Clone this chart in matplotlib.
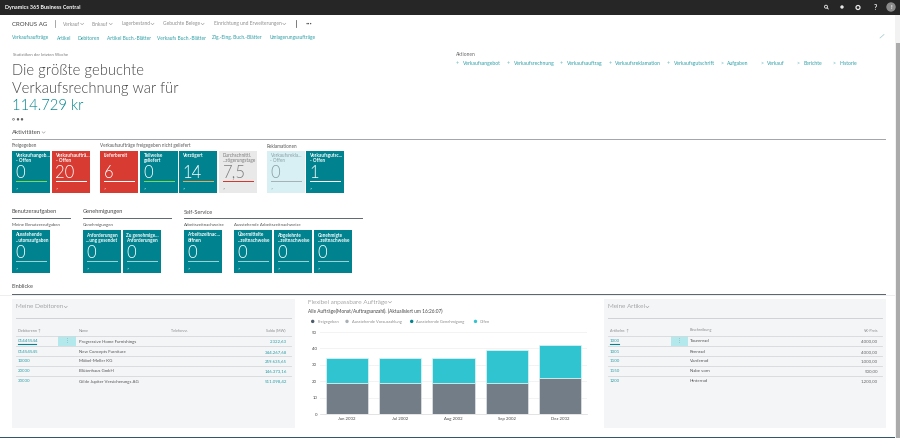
import matplotlib
matplotlib.use("Agg")
import matplotlib.pyplot as plt
from matplotlib.patches import Rectangle, Circle

plt.rcParams['font.family'] = ['Lato', 'DejaVu Sans']

TEAL = "#00838f"
LINK = "#2a9ea6"
GREY = "#505c66"

# navigation
nav_items = ["Verkauf", "Einkauf", "Lagerbestand", "Gebuchte Belege", "Einrichtung und Erweiterungen"]
link_items = ["Verkaufsaufträge", "Artikel", "Debitoren", "Artikel Buch.-Blätter", "Verkaufs Buch.-Blätter",
              "Zlg.-Eing. Buch.-Blätter", "Umlagerungsaufträge"]
action_items = ["Verkaufsangebot", "Verkaufsrechnung", "Verkaufsauftrag", "Verkaufsreklamation",
                "Verkaufsgutschrift", "Aufgaben", "Verkauf", "Berichte", "Historie"]
action_signs = ["+", "+", "+", "+", "+", ">", ">", ">", ">"]

# cues
tile_labels_top = ["Verkaufsangeb...\n- Offen", "Verkaufsaufträ...\n- Offen", "Lieferbereit", "Teilweise\ngeliefert",
                   "Verzögert", "Durchschnittl.\n...zögerungstage", "Verkaufsrekla...\n- Offen", "Verkaufsgutsc...\n- Offen"]
tile_values_top = ["0", "20", "6", "0", "14", "7,5", "0", "1"]
tile_labels_low = ["Ausstehende\n...utomaufgaben", "Anforderungen\n...ung gesendet", "Zu genehmige...\nAnforderungen",
                   "Arbeitszeitnac...\nöffnen", "Übermittelte\n...zeitnachweise", "Abgelehnte\n...zeitnachweise",
                   "Genehmigte\n...zeitnachweise"]
tile_values_low = ["0", "0", "0", "0", "0", "0", "0"]

# tables
debitor_nr = ["01445544", "01454545", "10000", "20000", "30000"]
debitor_name = ["Progressive Home Furnishings", "New Concepts Furniture", "Möbel-Meller KG", "Blütenhaus GmbH",
                "Gilde Jupiter Versicherungs AG"]
debitor_saldo = ["2.322,63", "344.267,68", "259.635,65", "146.373,16", "511.098,42"]
artikel_nr = ["1000", "1001", "1100", "1150", "1200"]
artikel_name = ["Tourenrad", "Rennrad", "Vorderrad", "Nabe vorn", "Hinterrad"]
artikel_preis = ["4.000,00", "4.000,00", "1.000,00", "500,00", "1.200,00"]

# bar chart
months = ["Jun 2002", "Jul 2002", "Aug 2002", "Sep 2002", "Dez 2002"]
freigegeben = [19, 19, 19, 19, 22]
offen = [15, 15, 15, 20, 20]
legend_names = ["Freigegeben", "Ausstehende Vorauszahlung", "Ausstehende Genehmigung", "Offen"]
legend_colors = ["#4c5a6a", "#a9b0b5", "#00838f", "#2fc4cf"]

fig = plt.figure(figsize=(9, 4.38), dpi=100, facecolor="white")
ax = fig.add_axes([0, 0, 1, 1])
ax.set_xlim(0, 900)
ax.set_ylim(438, 0)
ax.axis("off")


def txt(x, y, s, size=4, color=GREY, **kw):
    kw.setdefault("va", "center_baseline")
    return ax.text(x, y, s, fontsize=size, color=color, **kw)


def rect(x, y, w, h, color, z=1):
    ax.add_patch(Rectangle((x, y), w, h, facecolor=color, edgecolor="none", zorder=z))


# small down chevron behind a text
def chevron(t, color="#999999", s=1.5):
    box = t.get_window_extent(fig.canvas.get_renderer())
    x = box.x1 + s + 1
    y = 438 - (box.y0 + box.y1) / 2
    ax.plot([x - s, x, x + s], [y - s / 2, y + s / 2, y - s / 2], color=color, lw=0.4)


# top bar
rect(0, 0, 900, 14.5, "#262626")
txt(5, 6.5, "Dynamics 365 Business Central", 3.9, "white", fontweight="bold")
ax.add_patch(Circle((826, 6.7), 1.5, facecolor="none", edgecolor="#e8e8e8", lw=0.6))
ax.plot([827, 828.3], [7.8, 9], color="#e8e8e8", lw=0.6)
ax.add_patch(Circle((842, 7), 1.7, facecolor="#e8e8e8", edgecolor="none"))
ax.add_patch(Circle((858, 7.5), 2.0, facecolor="#262626", edgecolor="#e8e8e8", lw=0.9))
txt(875, 7.5, "?", 5, "#f0f0f0", ha="center", fontweight="bold")
ax.add_patch(Circle((891, 7), 4.7, facecolor="#8a8a8a", edgecolor="none"))
txt(891, 7, "!", 4, "white", ha="center", fontweight="bold")

# scrollbar
rect(895, 15, 5, 423, "#f2f2f2")
rect(896, 43, 3.5, 395, "#ababab")

# nav row
txt(12, 23.5, "CRONUS AG", 4.4, "#3f3f3f")
ax.plot([54.5, 54.5], [20, 27], color="#999999", lw=0.6)
for x, s in zip([62.5, 92, 121, 163, 214], nav_items):
    chevron(txt(x, 23.5, s, 3.5, "#8d8d8d"))
ax.plot([296, 296], [20, 27], color="#666666", lw=0.6)
txt(308.5, 23, "•••", 2.8, "#555555", ha="center")
for x, s in zip([12, 56.5, 78, 107, 157, 212.5, 270], link_items):
    txt(x, 37.5, s, 3.5, LINK)
ax.plot([880, 884], [38, 34.5], color="#9fc9cd", lw=0.5)

# headline
txt(13, 54.5, "Statistiken der letzten Woche", 3.1, "#777777")
txt(12.5, 69, "Die größte gebuchte", 10.6, "#444444", fontweight=300)
txt(12.5, 87, "Verkaufsrechnung war für", 10.6, "#444444", fontweight=300)
txt(12.5, 104, "114.729 kr", 10.6, TEAL, fontweight=300)
for x, fc in zip([13.5, 18, 22], ["white", "#555555", "#555555"]):
    ax.add_patch(Circle((x, 119.3), 0.9, facecolor=fc, edgecolor="#555555", lw=0.4))

# actions
txt(456, 54.5, "Aktionen", 3.5, "#666666")
for x, sign, s in zip([457.5, 508.5, 561.5, 610, 668.5, 722, 762, 798, 834], action_signs, action_items):
    txt(x, 63, sign, 3.9, "#63b9bf", ha="center")
    txt(x + 5.2, 63, s, 3.65, LINK)

# section heads
chevron(txt(12, 132, "Aktivitäten", 4.3, "#4a4a4a"))
rect(12, 139, 874, 1.2, "#a3a7ab")
for x, s in zip([12, 100, 267], ["Freigegeben", "Verkaufsaufträge freigegeben nicht geliefert", "Reklamationen"]):
    txt(x, 145.5, s, 3.3, "#555555")

top_x = [12, 52, 100, 140, 179, 219, 267, 306]
top_fill = [TEAL, "#d83b32", "#d83b32", TEAL, TEAL, "#e9e9ea", "#d8f0f3", TEAL]
top_text = ["white", "white", "white", "white", "white", "#7b7b7b", "#8b9ea2", "white"]
top_bar = ["#7ddb4e", "white", "white", "#7ddb4e", "#eda95a", "#d5372f", "#a6b3b6", "white"]


def tile(x, y, label, value, fill, tc, bc, w=38, h=42.5):
    rect(x, y, w, h, fill)
    txt(x + 3.5, y + 2.5, label, 3.3, tc, va="top", fontweight="bold" if tc == "white" else "normal",
        linespacing=1.05)
    txt(x + 3.5, y + 21, value, 12, tc, fontweight=300)
    rect(x + 3.5, y + 30.6, w - 7, 1.1, bc, 2)
    txt(x + 3.5, y + 37.5, ">", 3, tc)


for i in range(len(top_x)):
    tile(top_x[i], 150.5, tile_labels_top[i], tile_values_top[i], top_fill[i], top_text[i], top_bar[i])

# second row
for x, s, x2 in zip([12, 83, 184], ["Benutzeraufgaben", "Genehmigungen", "Self-Service"], [70, 171, 362]):
    txt(x, 211.5, s, 4.1, "#4a4a4a")
    ax.plot([x, x2], [218.4, 218.4], color="#5d6770", lw=0.7)
for x, s in zip([12, 83, 184, 234], ["Meine Benutzeraufgaben", "Genehmigungen", "Arbeitszeitnachweise",
                                     "Ausstehende Arbeitszeitnachweise"]):
    txt(x, 224.8, s, 3.2, "#555555")
low_x = [12, 83, 123, 184, 234, 274, 314]
for i in range(len(low_x)):
    tile(low_x[i], 230, tile_labels_low[i], tile_values_low[i], TEAL, "white", "#9fd0d4")

txt(12, 286.5, "Einblicke", 4.1, "#4a4a4a")
rect(12, 294, 874, 1, "#5d6770")
rect(0, 295, 895, 1, "#eeeeee", 0)


def table(x0, x1, title, heads, head_x, col1, col2, col3, right, link_col3, sel_x, sel_w):
    rect(x0, 299, x1 - x0, 128.5, "#f4f5f7", 0)
    chevron(txt(x0 + 4, 306.5, title, 4.6, "#666666", fontweight=300))
    ax.plot([x0 + 4, x1 - 4], [317.5, 317.5], color="#c9cccf", lw=0.6)
    for x, s in zip(head_x, heads):
        txt(x, 330, s, 2.7, "#8a8a8a")
    for i, y in enumerate([341, 351.5, 361, 371, 381]):
        ax.plot([x0 + 4, x1 - 4], [y - 5.3, y - 5.3], color="#d5d8db", lw=0.6)
        txt(head_x[0], y, col1[i], 3.2, LINK)
        txt(head_x[1], y, col2[i], 3.2, "#555555")
        txt(right, y, col3[i], 3.2, LINK if link_col3 else "#666666", ha="right")
    rect(sel_x, 335.7, sel_w, 10, "#b3e8ec", 0.5)
    txt(sel_x + sel_w / 2, 340.5, "⋮", 3.5, "#5f9fa5", ha="center")
    ax.plot([head_x[0], head_x[0] + 18 if link_col3 else head_x[0] + 9], [344.4, 344.4], color=TEAL, lw=0.8)


table(12, 295, "Meine Debitoren", ["Debitorenn ↑", "Name", "Telefonnr."], [18, 79, 171],
      debitor_nr, debitor_name, debitor_saldo, 287, True, 58, 18)
txt(286, 330, "Saldo (MW)", 2.7, "#8a8a8a", ha="right")
table(604, 886, "Meine Artikel", ["Artikelnr. ↑", "Beschreibung"], [610, 690],
      artikel_nr, artikel_name, artikel_preis, 878, False, 671, 17)
txt(878, 330, "VK-Preis", 2.7, "#8a8a8a", ha="right")

# chart card
chevron(txt(308, 301.7, "Flexibel anpassbare Aufträge", 4.6, "#666666", fontweight=300))
txt(308, 310.7, "Alle Aufträge(Monat/Auftragsanzahl). (Aktualisiert um 16:26:07)", 3.4, "#444444")
for x, s, c in zip([312.7, 347, 411.7, 475.5], legend_names, legend_colors):
    ax.add_patch(Circle((x, 321.4), 1.7, facecolor=c, edgecolor="none"))
    txt(x + 4.5, 321.4, s, 2.9, "#8a8a8a")

cx = fig.add_axes([320 / 900, 1 - 414 / 438, 267 / 900, 82 / 438])
pos = list(range(len(months)))
cx.bar(pos, freigegeben, width=0.79, color="#737d88", edgecolor="#e3e6e8", linewidth=0.5)
cx.bar(pos, offen, width=0.79, bottom=freigegeben, color="#2fc4cf", edgecolor="#e3f4f6", linewidth=0.5)
cx.set_xlim(-0.5, 4.5)
cx.set_ylim(0, 50)
cx.set_yticks([0, 10, 20, 30, 40, 50])
cx.set_xticks(pos)
cx.set_xticklabels(months)
cx.tick_params(axis="both", length=0, labelsize=3.1, labelcolor="#444444", pad=2)
cx.grid(axis="y", color="#eeeeee", lw=0.5)
cx.set_axisbelow(True)
for side in ["top", "left", "right"]:
    cx.spines[side].set_visible(False)
cx.spines["bottom"].set_color("#d8d8d8")
cx.spines["bottom"].set_linewidth(0.5)
cx.patch.set_alpha(0)

# dark strip at the lower edge
rect(0, 437, 895, 1, "#33566a", 3)

fig.savefig("out.png", dpi=100)
